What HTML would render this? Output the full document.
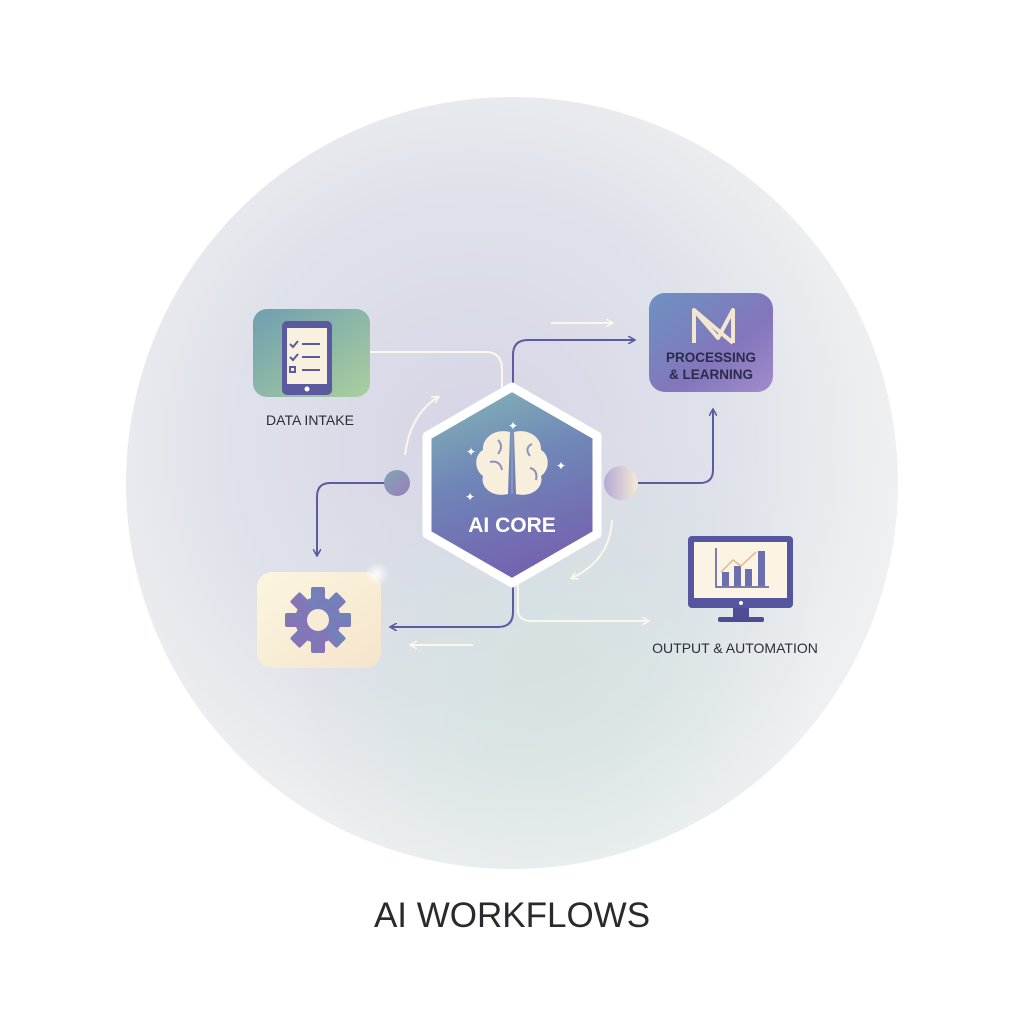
<!DOCTYPE html>
<html><head><meta charset="utf-8"><style>
html,body{margin:0;padding:0;background:#fff;}
svg{display:block;font-family:"Liberation Sans",sans-serif;}
</style></head><body>
<svg width="1024" height="1024" viewBox="0 0 1024 1024" xmlns="http://www.w3.org/2000/svg">
<defs>
<radialGradient id="bg" cx="0.45" cy="0.45" r="0.6">
<stop offset="0" stop-color="#d6d4e6"/><stop offset="0.55" stop-color="#dfe2ea"/><stop offset="0.85" stop-color="#eceef0"/><stop offset="1" stop-color="#f1f2f3"/>
</radialGradient>
<radialGradient id="bg2" cx="0.55" cy="0.75" r="0.35">
<stop offset="0" stop-color="#d3e3df" stop-opacity="0.8"/><stop offset="1" stop-color="#d3e3df" stop-opacity="0"/>
</radialGradient>
<radialGradient id="glow"><stop offset="0" stop-color="#fff" stop-opacity="0.9"/><stop offset="1" stop-color="#fff" stop-opacity="0"/></radialGradient>
<linearGradient id="hex" x1="0" y1="0" x2="0.3" y2="1">
<stop offset="0" stop-color="#86b9b6"/><stop offset="0.5" stop-color="#6f86b7"/><stop offset="1" stop-color="#7464b0"/>
</linearGradient>
<linearGradient id="g1" x1="0" y1="0" x2="1" y2="1">
<stop offset="0" stop-color="#6f9eb0"/><stop offset="1" stop-color="#a9cf9e"/>
</linearGradient>
<linearGradient id="g2" x1="0" y1="0" x2="1" y2="1">
<stop offset="0" stop-color="#6d92c0"/><stop offset="0.6" stop-color="#8376bc"/><stop offset="1" stop-color="#a08ccc"/>
</linearGradient>
<linearGradient id="g3" x1="0" y1="0" x2="1" y2="1">
<stop offset="0" stop-color="#fbf6df"/><stop offset="1" stop-color="#f6e4cc"/>
</linearGradient>
<linearGradient id="gear" x1="0" y1="0" x2="1" y2="1">
<stop offset="0" stop-color="#6a86bb"/><stop offset="1" stop-color="#8d6fb5"/>
</linearGradient>
<linearGradient id="ball1" x1="0" y1="0" x2="1" y2="1">
<stop offset="0" stop-color="#7fa4b5"/><stop offset="1" stop-color="#9a7fb8"/>
</linearGradient>
<linearGradient id="ball2" x1="0" y1="0" x2="1" y2="0">
<stop offset="0" stop-color="#b3a9d4"/><stop offset="1" stop-color="#f5ead5"/>
</linearGradient>
<marker id="ah" markerWidth="8" markerHeight="8" refX="6" refY="4" orient="auto" markerUnits="userSpaceOnUse"><path d="M0,0 L7,4 L0,8" fill="none" stroke="#5c5aa0" stroke-width="1.6"/></marker>
<marker id="aw" markerWidth="8" markerHeight="8" refX="6" refY="4" orient="auto" markerUnits="userSpaceOnUse"><path d="M0,0 L7,4 L0,8" fill="none" stroke="#fbf7ea" stroke-width="1.6"/></marker>
</defs>
<circle cx="512" cy="483" r="386" fill="url(#bg)"/>
<circle cx="512" cy="483" r="386" fill="url(#bg2)"/>

<g fill="none" stroke-width="2">
<path d="M370,352 H486 Q502,352 502,370 V392" stroke="#fbf7ea"/>
<path d="M513,388 V355 Q513,340 528,340 H634" stroke="#5c5aa0" marker-end="url(#ah)"/>
<path d="M551,323 H612" stroke="#fbf7ea" marker-end="url(#aw)"/>
<path d="M396,483 H330 Q317,483 317,497 V555" stroke="#5c5aa0" marker-end="url(#ah)"/>
<path d="M638,483 H700 Q713,483 713,470 V410" stroke="#5c5aa0" marker-end="url(#ah)"/>
<path d="M513,584 V612 Q513,627 498,627 H391" stroke="#5c5aa0" marker-end="url(#ah)"/>
<path d="M518,584 V610 Q518,621 532,621 H648" stroke="#fbf7ea" marker-end="url(#aw)"/>
<path d="M473,645 H411" stroke="#fbf7ea" marker-end="url(#aw)"/>
<path d="M405,455 Q410,415 438,397" stroke="#fbf7ea" marker-end="url(#aw)"/>
<path d="M612,520 Q610,560 572,578" stroke="#fbf7ea" marker-end="url(#aw)"/>
</g>
<circle cx="397" cy="483" r="13" fill="url(#ball1)"/>
<circle cx="621" cy="483" r="17" fill="url(#ball2)"/>

<path d="M512,387 L597,436 L597,534 L512,583 L427,534 L427,436 Z" fill="url(#hex)" stroke="#ffffff" stroke-width="9" stroke-linejoin="round"/>
<g fill="#f7eedb">
<path d="M510,432 C495,428 482,438 483,450 C474,455 474,470 483,476 C480,487 492,498 508,494 Z"/>
<path d="M514,432 C529,428 542,438 541,450 C550,455 550,470 541,476 C544,487 532,498 516,494 Z"/>
</g>
<g fill="none" stroke="#8a92c0" stroke-width="2">
<path d="M498,440 q6,6 0,14 M490,462 q10,-2 12,8 M532,444 q-8,4 -2,12 M530,468 q8,2 6,12 M512,432 V494"/>
</g>
<g fill="#fff" font-size="12"><text x="508" y="430">✦</text><text x="466" y="456">✦</text><text x="556" y="470">✦</text><text x="465" y="501">✦</text></g>
<text x="512" y="532" text-anchor="middle" font-size="21" fill="#fff" font-weight="bold">AI CORE</text>

<rect x="253" y="309" width="117" height="88" rx="14" fill="url(#g1)"/>
<rect x="282" y="321" width="50" height="74" rx="5" fill="#5b5aa0"/>
<rect x="287" y="328" width="40" height="56" fill="#f9f1df"/>
<circle cx="307" cy="389" r="2.5" fill="#fff"/>
<g stroke="#5b5aa0" stroke-width="2" fill="none"><path d="M290,344 l3,3 l5,-6 M290,357 l3,3 l5,-6"/><path d="M302,344 H320 M302,357 H320 M302,370 H320"/><rect x="290" y="367" width="5" height="5"/></g>
<text x="310" y="425" text-anchor="middle" font-size="14" fill="#2c2c3a">DATA INTAKE</text>

<rect x="649" y="293" width="124" height="99" rx="16" fill="url(#g2)"/>
<path d="M694,343 V310 L718,338 L733,310 V343 M694,310 L733,343" fill="none" stroke="#f3e7d0" stroke-width="4" stroke-linejoin="round"/>
<text x="711" y="362" text-anchor="middle" font-size="13.5" font-weight="bold" fill="#2b2b4a">PROCESSING</text>
<text x="711" y="379" text-anchor="middle" font-size="13.5" font-weight="bold" fill="#2b2b4a">&amp; LEARNING</text>

<rect x="257" y="572" width="124" height="96" rx="15" fill="url(#g3)"/>
<circle cx="377" cy="574" r="12" fill="url(#glow)"/>
<g fill="url(#gear)" transform="translate(318,620)">
<circle r="23"/>
<g><rect x="-7" y="-33" width="14" height="66" rx="2"/><rect x="-7" y="-33" width="14" height="66" rx="2" transform="rotate(45)"/><rect x="-7" y="-33" width="14" height="66" rx="2" transform="rotate(90)"/><rect x="-7" y="-33" width="14" height="66" rx="2" transform="rotate(135)"/></g>
<circle r="11" fill="#f8ecd6"/>
</g>

<rect x="688" y="536" width="105" height="72" rx="4" fill="#5655a0"/>
<rect x="694" y="542" width="93" height="56" fill="#fbf3e4"/>
<rect x="733" y="608" width="16" height="10" fill="#4d4c95"/>
<rect x="718" y="617" width="46" height="5" rx="2" fill="#4d4c95"/>
<circle cx="741" cy="603" r="2" fill="#fff"/>
<g fill="#6b6fb0"><rect x="722" y="572" width="7" height="14"/><rect x="734" y="566" width="7" height="20"/><rect x="745" y="569" width="7" height="17"/><rect x="758" y="551" width="7" height="35"/></g>
<path d="M716,548 V587 H769" fill="none" stroke="#5655a0" stroke-width="1.5"/>
<path d="M721,572 L733,560 L741,566 L756,552" fill="none" stroke="#e8b48a" stroke-width="1.5"/>
<text x="735" y="653" text-anchor="middle" font-size="14" fill="#2c2c3a">OUTPUT &amp; AUTOMATION</text>

<text x="512" y="927" text-anchor="middle" font-size="35" fill="#2a2a2e">AI WORKFLOWS</text>
</svg>
</body></html>
